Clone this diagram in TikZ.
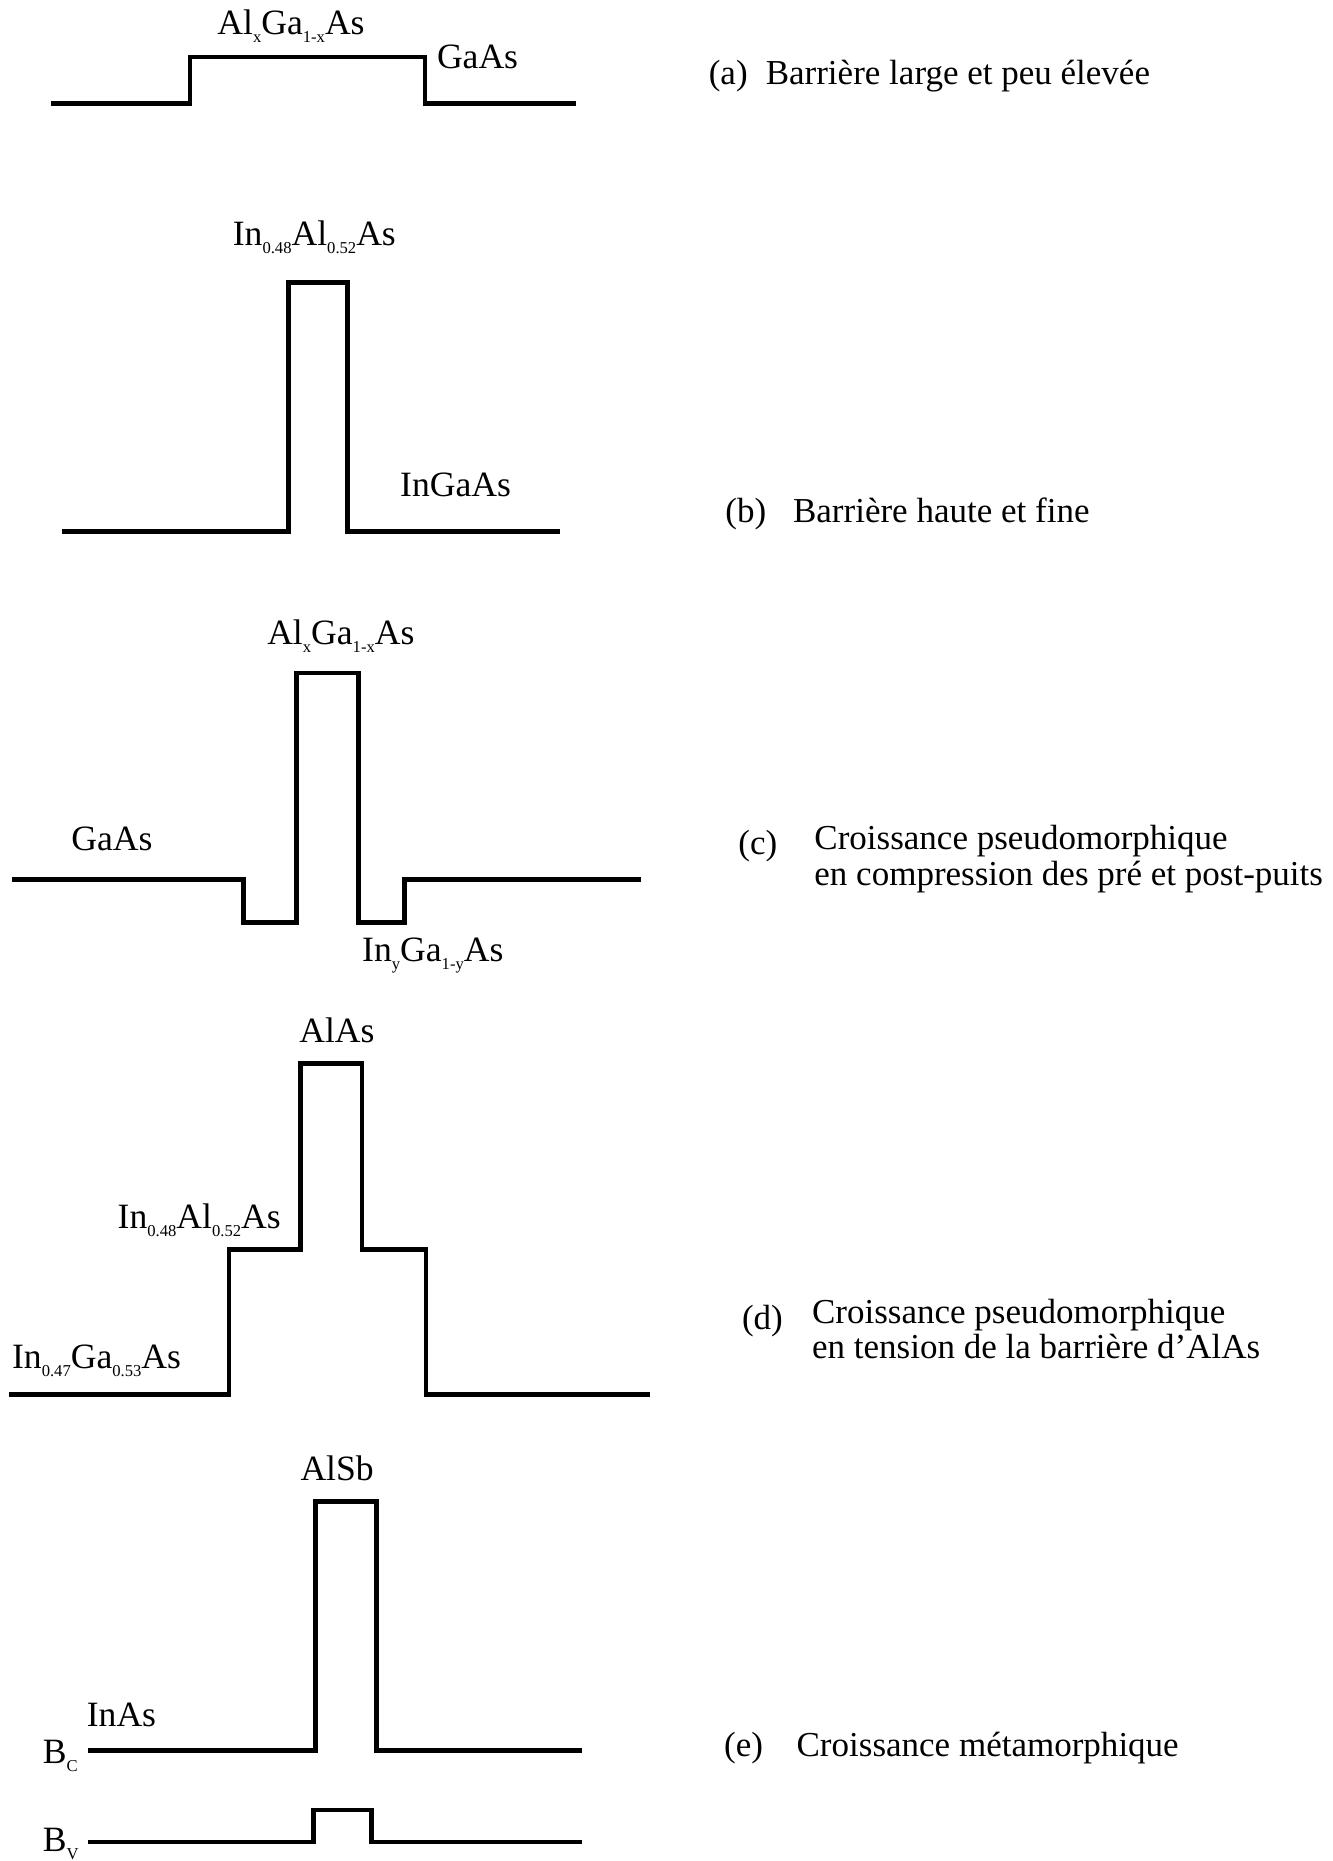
\documentclass[tikz,border=0pt]{standalone}
\usepackage{fontspec}
\setmainfont{Liberation Serif}
\newcommand{\lowsub}[1]{\raisebox{-0.22em}{\fontsize{14}{14}\selectfont #1}}
\begin{document}
\begin{tikzpicture}[x=1pt,y=-1pt,
  band/.style={line width=4pt, line join=miter},
  lab/.style={anchor=base west, inner sep=0pt, font=\fontsize{30}{30}\selectfont},
  capt/.style={anchor=base west, inner sep=0pt, font=\fontsize{29.5}{28}\selectfont}]
\useasboundingbox (0,0) rectangle (1123,1568);
% (a)
\draw[band] (43,87) -- (160,87) -- (160,48) -- (358,48) -- (358,87) -- (485,87);
\node[lab] (la1) at (183,29) {Al\lowsub{x}Ga\lowsub{1-x}As};
\node[lab] (la2) at (368,58) {GaAs};
\node[capt] (ca0) at (597,71) {(a)};
\node[capt] (ca1) at (645,71) {Barrière large et peu élevée};
% (b)
\draw[band] (52,448) -- (243,448) -- (243,238) -- (293,238) -- (293,448) -- (472,448);
\node[lab] (lb1) at (196,207) {In\lowsub{0.48}Al\lowsub{0.52}As};
\node[lab] (lb2) at (337,418) {InGaAs};
\node[capt] (cb0) at (611,440) {(b)};
\node[capt] (cb1) at (668,440) {Barrière haute et fine};
% (c)
\draw[band] (10,741) -- (205,741) -- (205,777) -- (250,777) -- (250,567) -- (302,567) -- (302,777) -- (341,777) -- (341,741) -- (540,741);
\node[lab] (lc1) at (225,543) {Al\lowsub{x}Ga\lowsub{1-x}As};
\node[lab] (lc2) at (60,717) {GaAs};
\node[lab] (lc3) at (305,810) {In\lowsub{y}Ga\lowsub{1-y}As};
\node[capt] (cc0) at (622,720) {(c)};
\node[capt] (cc1) at (686,716) {Croissance pseudomorphique};
\node[capt] (cc2) at (686,746) {en compression des pré et post-puits};
% (d)
\draw[band] (8,1175) -- (193,1175) -- (193,1053) -- (253,1053) -- (253,896) -- (305,896) -- (305,1053) -- (359,1053) -- (359,1175) -- (548,1175);
\node[lab] (ld1) at (252,878) {AlAs};
\node[lab] (ld2) at (99,1035) {In\lowsub{0.48}Al\lowsub{0.52}As};
\node[lab] (ld3) at (10,1153) {In\lowsub{0.47}Ga\lowsub{0.53}As};
\node[capt] (cd0) at (625,1120) {(d)};
\node[capt] (cd1) at (684,1115) {Croissance pseudomorphique};
\node[capt] (cd2) at (684,1145) {en tension de la barrière d\char"0027 AlAs};
% (e)
\draw[band] (74,1475) -- (266,1475) -- (266,1265) -- (317,1265) -- (317,1475) -- (490,1475);
\draw[band] (74,1552) -- (264,1552) -- (264,1525) -- (313,1525) -- (313,1552) -- (490,1552);
\node[lab] (le1) at (253,1247) {AlSb};
\node[lab] (le2) at (73,1455) {InAs};
\node[lab] (le3) at (36,1486) {B\lowsub{C}};
\node[lab] (le4) at (36,1560) {B\lowsub{V}};
\node[capt] (ce0) at (610,1480) {(e)};
\node[capt] (ce1) at (671,1480) {Croissance métamorphique};
\end{tikzpicture}
\end{document}
